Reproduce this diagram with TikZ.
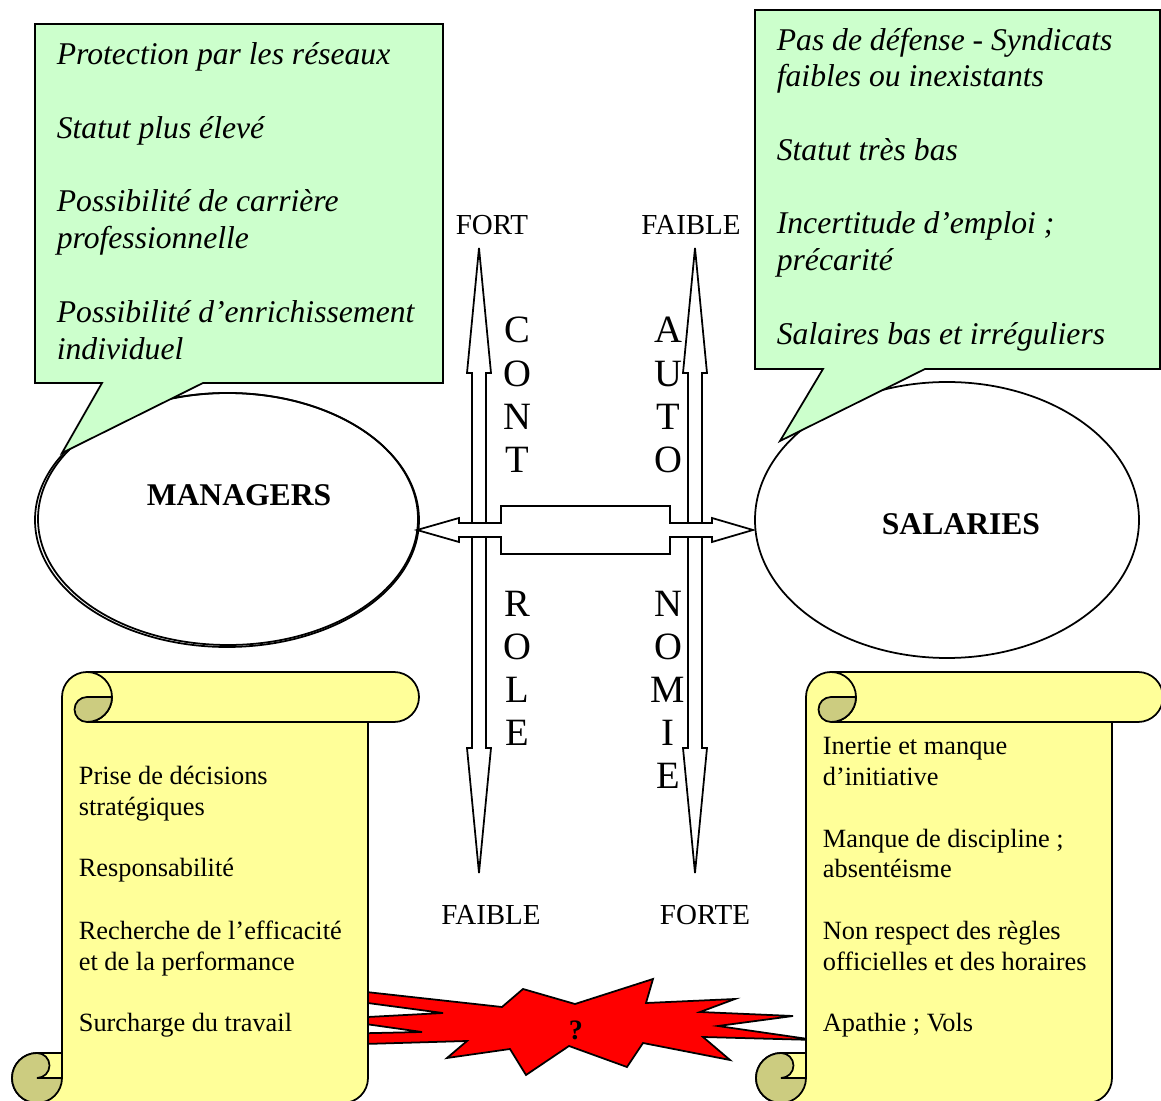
\documentclass[tikz,border=0pt]{standalone}
\usepackage{fontspec}
\setmainfont{Liberation Serif}
\usetikzlibrary{calc}
\definecolor{calloutgreen}{RGB}{204,255,204}
\definecolor{scrollyellow}{RGB}{255,255,153}
\definecolor{scrollcurl}{RGB}{204,204,128}

\begin{document}
\begin{tikzpicture}[
  x=0.02cm, y=-0.02cm, line width=1pt,
  callout/.style={draw, fill=calloutgreen, line join=miter},
  scrollbody/.style={draw, fill=scrollyellow},
  curl/.style={draw, fill=scrollcurl},
  blockarrow/.style={draw, fill=white, line join=miter},
  burst/.style={draw, fill=red, line join=miter},
  bubble/.style={draw},
  ctxt/.style={anchor=base west, inner sep=0pt, font=\fontsize{18}{21}\selectfont\itshape},
  stxt/.style={anchor=base west, inner sep=0pt, font=\fontsize{15}{18}\selectfont},
  axlab/.style={anchor=base, inner sep=0pt, font=\fontsize{16.5}{19}\selectfont},
  vletter/.style={anchor=base, inner sep=0pt, font=\fontsize{22}{26}\selectfont},
  actor/.style={anchor=base, inner sep=0pt, font=\fontsize{18}{21}\selectfont\bfseries},
]
\useasboundingbox (0,0) rectangle (1161,1101);
\clip (0,0) rectangle (1161,1101);

% the two actors
\draw[bubble] (227,520) ellipse [x radius=192, y radius=127];
\draw[bubble] (228,519) ellipse [x radius=190, y radius=126];
\draw[bubble] (947,520) ellipse [x radius=192, y radius=138];
\node[actor] (managers) at (239,506) {MANAGERS};
\node[actor] (salaries) at (961,535) {SALARIES};

% speech callouts
\path[callout] (35,24) -- (443,24) -- (443,383) -- (203,383) -- (62,453) -- (102,383) -- (35,383) -- cycle;
\path[callout] (755,10) -- (1160,10) -- (1160,369) -- (925,369) -- (780,441) -- (823,369) -- (755,369) -- cycle;
\foreach \y/\t [count=\i] in {54/Protection par les réseaux, 128/Statut plus élevé,
    201/Possibilité de carrière, 238/professionnelle,
    312/Possibilité d’enrichissement, 349/individuel}
  \node[ctxt] (mgrnote-\i) at (56,\y+11) {\t};
\foreach \y/\t [count=\i] in {40/Pas de défense - Syndicats, 76/faibles ou inexistants,
    150/Statut très bas, 223/Incertitude d’emploi ;, 260/précarité,
    334/Salaires bas et irréguliers}
  \node[ctxt] (salnote-\i) at (776,\y+11) {\t};

% control / autonomy axes
\foreach \ax in {479,695}
  \draw[blockarrow] (\ax,248) -- (\ax+12,373) -- (\ax+7,373) -- (\ax+7,748) -- (\ax+12,748)
    -- (\ax,873) -- (\ax-12,748) -- (\ax-7,748) -- (\ax-7,373) -- (\ax-12,373) -- cycle;
\draw[blockarrow] (417,530) -- (459,518) -- (459,523) -- (501,523) -- (501,506) -- (670,506)
  -- (670,523) -- (712,523) -- (712,518) -- (753,530) -- (712,542) -- (712,537) -- (670,537)
  -- (670,554) -- (501,554) -- (501,537) -- (459,537) -- (459,542) -- cycle;
\node[axlab] (ctl-hi) at (492,235) {FORT};
\node[axlab] (aut-lo) at (691,235) {FAIBLE};
\node[axlab] (ctl-lo) at (491,925) {FAIBLE};
\node[axlab] (aut-hi) at (705,925) {FORTE};
\foreach \l/\y [count=\i] in {C/330,O/374,N/417,T/460,R/604,O/647,L/690,E/733}
  \node[vletter] (ctl-\i) at (517,\y+13) {\l};
\foreach \l/\y [count=\i] in {A/330,U/374,T/417,O/460,N/604,O/647,M/690,I/733,E/776}
  \node[vletter] (aut-\i) at (668,\y+13) {\l};

% conflict burst
\draw[burst] (330,988) -- (502,1007) -- (523,989) -- (575,1004) -- (653,979) -- (646,1003)
  -- (735,999) -- (700,1012) -- (793,1016) -- (718,1026) -- (815,1040) -- (703,1037)
  -- (730,1060) -- (643,1043) -- (627,1067) -- (569,1046) -- (526,1075) -- (510,1049)
  -- (447,1058) -- (467,1041) -- (330,1045) -- (330,1034) -- (422,1032) -- (330,1019)
  -- (443,1013) -- (330,998) -- cycle;
\node[font=\fontsize{16}{18}\selectfont\bfseries, anchor=base, inner sep=0pt] (clash) at (576,1039) {?};

% scrolls
\foreach \dx in {0,744}{
  \begin{scope}[shift={(\dx,0)}]
    \path[scrollbody] (87,672) -- (394,672) arc (270:450:25) -- (368,722) -- (368,1078)
      arc (0:90:25) -- (37,1103) arc (90:270:25) -- (62,1053) -- (62,697) arc (180:270:25) -- cycle;
    \draw (87,722) -- (368,722);
    \draw (87,672) arc (270:450:25);
    \path[curl] (112,697) -- (87,697) arc (270:90:12.5) arc (90:0:25) -- cycle;
    \path[curl] (62,1078) arc (0:270:25) arc (270:450:12.5) -- cycle;
    \draw (62,1053) -- (62,1078);
  \end{scope}
}
\foreach \y/\t [count=\i] in {775/Prise de décisions, 806/stratégiques, 867/Responsabilité,
    929/Recherche de l’efficacité, 960/et de la performance, 1021/Surcharge du travail}
  \node[stxt] (mgrtask-\i) at (78,\y+10) {\t};
\foreach \y/\t [count=\i] in {745/Inertie et manque, 776/d’initiative, 837/Manque de discipline ;,
    868/absentéisme, 929/Non respect des règles, 960/officielles et des horaires, 1021/Apathie ; Vols}
  \node[stxt] (saltask-\i) at (822,\y+10) {\t};
\end{tikzpicture}
\end{document}
